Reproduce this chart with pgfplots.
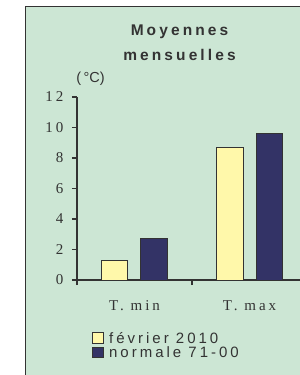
\documentclass[border=0pt]{standalone}
\usepackage{pgfplots}
\pgfplotsset{compat=1.18}
\usepackage{fontspec}
\setmainfont{Liberation Sans}
\newfontfamily\serifls[LetterSpace=20]{Liberation Serif}
\newfontfamily\titlefont[LetterSpace=20]{Liberation Sans}
\newfontfamily\legfont[LetterSpace=20]{Liberation Sans}
\definecolor{panel}{RGB}{204,230,212}
\definecolor{barY}{RGB}{255,248,170}
\definecolor{barN}{RGB}{51,51,102}
\definecolor{edge}{RGB}{51,51,51}
\begin{document}
\begin{tikzpicture}
\path[use as bounding box, clip] (0pt,0pt) rectangle (300pt,375pt);
\draw[edge, line width=1.4pt, fill=panel] (25.5pt,-5pt) rectangle (310pt,368.5pt);
\node[font=\titlefont\bfseries\fontsize{15.5}{15.5}\selectfont, text=edge, anchor=base] at (179.5pt,339pt) {Moyennes};
\node[font=\titlefont\bfseries\fontsize{15.5}{15.5}\selectfont, text=edge, anchor=base] at (179.5pt,314pt) {mensuelles};
\node[font=\fontsize{14.5}{14.5}\selectfont, text=edge, anchor=base] at (90.5pt,292pt) {(\,°C)};
\begin{axis}[
  at={(77pt,95pt)}, anchor=south west,
  scale only axis, width=230pt, height=183pt,
  xmin=-0.5, xmax=1.5, ymin=0, ymax=12,
  axis lines*=left,
  axis line style={edge, line width=1.2pt, -},
  ybar=13pt, bar width=26pt,
  ytick={0,2,...,12},
  xtick={0,1}, xticklabels={T. min, T. max},
  minor xtick={-0.5,0.5,1.5},
  tick align=outside, tick pos=left,
  major tick length=5pt, minor tick length=5pt,
  every tick/.style={edge, line width=1.2pt},
  x tick style={draw=none},
  minor x tick style={draw=edge, line width=1.2pt},
  /pgf/number format/assume math mode=true,
  yticklabel style={font=\serifls\fontsize{15}{15}\selectfont, text=edge, xshift=-5pt},
  xticklabel style={font=\serifls\fontsize{15}{15}\selectfont, text=edge, anchor=base, yshift=-25pt},
  legend style={draw=none, fill=none, at={(axis description cs:0.065,-0.28)}, anchor=north west,
     font=\legfont\fontsize{15}{15}\selectfont, text=edge, inner sep=0pt, row sep=0pt,
     nodes={inner sep=1pt}},
  legend cell align=left,
  legend image code/.code={\draw[#1, line width=0.9pt] (0pt,-4.5pt) rectangle (10.5pt,6pt); \path (15pt,0pt);},
]
\addplot[fill=barY, draw=edge, line width=1pt] coordinates {(0,1.3) (1,8.7)};
\addplot[fill=barN, draw=edge, line width=1pt] coordinates {(0,2.7) (1,9.6)};
\legend{février 2010, normale 71-00}
\end{axis}
\end{tikzpicture}
\end{document}
